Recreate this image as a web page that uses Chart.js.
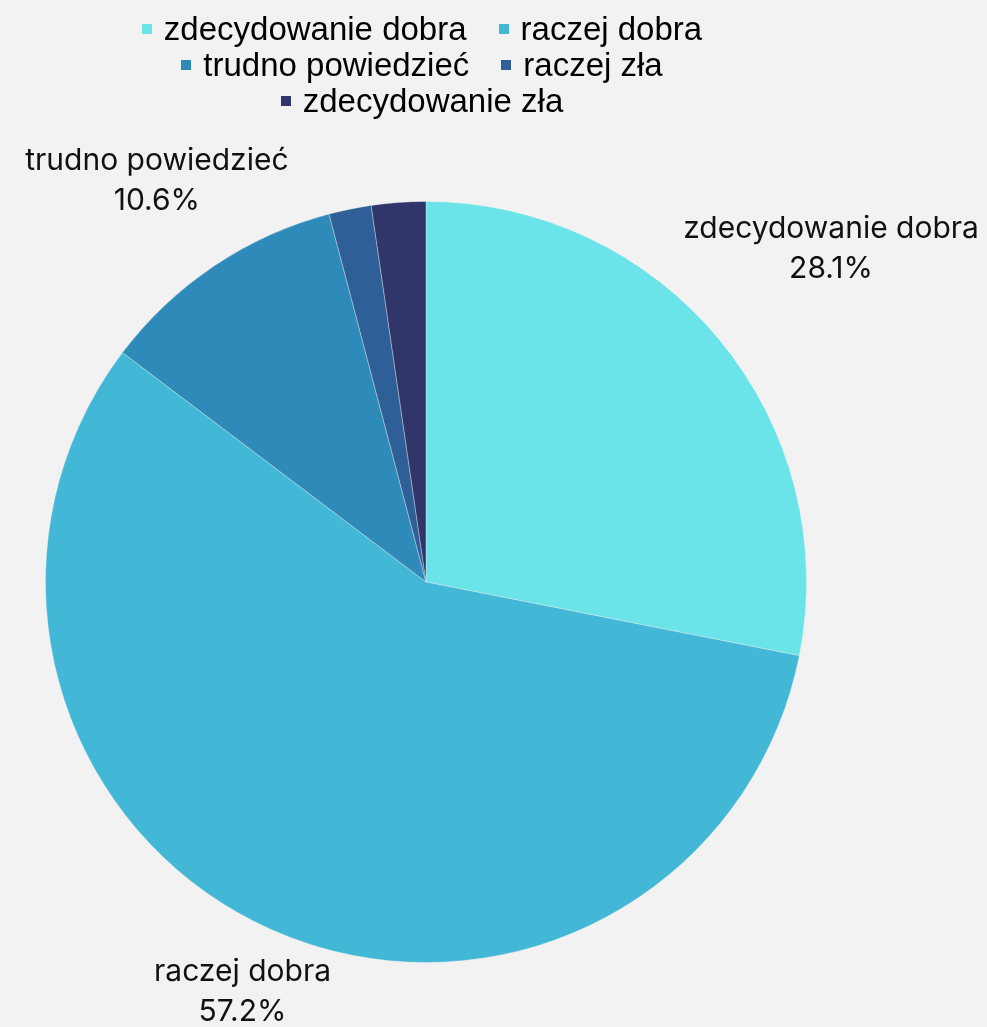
<!DOCTYPE html>
<html><head><meta charset="utf-8">
<script src="https://cdn.jsdelivr.net/npm/chart.js@4/dist/chart.umd.min.js"></script>
<style>
html,body{margin:0;padding:0;background:#f2f2f2;}
#wrap{position:relative;width:987px;height:1027px;}
#legend{position:absolute;left:72px;top:11px;width:700px;text-align:center;font-family:"Liberation Sans",Arial,sans-serif;font-size:33px;line-height:36px;color:#000;}
#legend span.item{display:inline-block;margin:0 16px;white-space:nowrap;}
#legend span.box{display:inline-block;width:10px;height:10px;margin-right:12px;vertical-align:middle;position:relative;top:-2px;}
</style></head>
<body><div id="wrap"><canvas id="c" width="987" height="1027"></canvas><div id="legend"></div></div>
<script>
const categories = ["zdecydowanie dobra","raczej dobra","trudno powiedzieć","raczej zła","zdecydowanie zła"];
const values = [28.1, 57.2, 10.6, 1.8, 2.3];
const colors = ["#6ae4e8","#43b8d6","#2e8ab8","#2e6097","#30356a"];
const labelledIdx = [0,1,2];
const labelDist = {0:1.378, 1:1.18, 2:1.27};

const lg = document.getElementById('legend');
const rows = [[0,1],[2,3],[4]];
rows.forEach(r=>{
  const div=document.createElement('div');
  r.forEach(i=>{
    const s=document.createElement('span');s.className='item';
    const b=document.createElement('span');b.className='box';b.style.background=colors[i];
    s.appendChild(b);s.appendChild(document.createTextNode(categories[i]));
    div.appendChild(s);
  });
  lg.appendChild(div);
});

const labelPlugin = {
  id:'outLabels',
  afterDatasetsDraw(chart){
    const ctx=chart.ctx;
    const meta=chart.getDatasetMeta(0);
    ctx.save();
    ctx.font='30px Inter, "Noto Sans", sans-serif';
    ctx.fillStyle='#111';
    ctx.textAlign='center';ctx.textBaseline='middle';
    labelledIdx.forEach(i=>{
      const arc=meta.data[i];
      const mid=(arc.startAngle+arc.endAngle)/2;
      const r=arc.outerRadius*labelDist[i];
      const x=arc.x+Math.cos(mid)*r, y=arc.y+Math.sin(mid)*r;
      ctx.fillText(categories[i], x, y-20);
      ctx.fillText(values[i].toFixed(1)+'%', x, y+20);
    });
    ctx.restore();
  }
};

new Chart(document.getElementById('c'),{
  type:'pie',
  data:{labels:categories,datasets:[{data:values,backgroundColor:colors,borderColor:'rgba(242,242,242,0.35)',borderWidth:1}]},
  options:{responsive:false,animation:false,
    layout:{padding:{top:201,bottom:64,left:45,right:180}},
    plugins:{legend:{display:false},tooltip:{enabled:false}}},
  plugins:[labelPlugin]
});
</script></body></html>
